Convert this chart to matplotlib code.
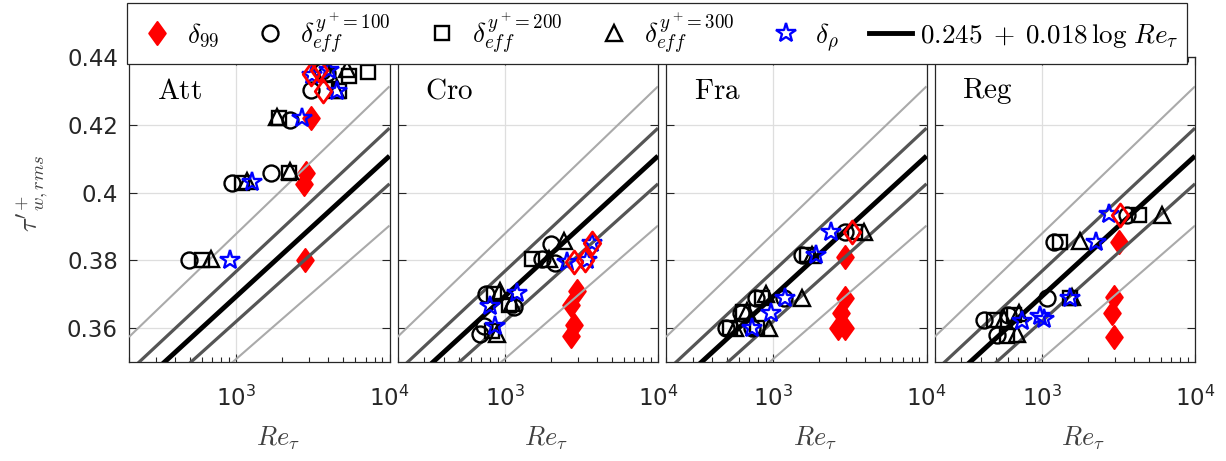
import matplotlib
matplotlib.use("Agg")
import matplotlib.pyplot as plt
import numpy as np
from matplotlib.lines import Line2D
from matplotlib.path import Path
from matplotlib.ticker import FixedLocator, FormatStrFormatter, LogLocator, NullFormatter

plt.rcParams["font.family"] = "DejaVu Sans"
plt.rcParams["mathtext.fontset"] = "cm"

PANELS = ["Att", "Cro", "Fra", "Reg"]

# (Re_tau, tau'+_w,rms) pairs for each boundary-layer thickness definition
ATT_D99 = [(2832, 0.3800), (2763, 0.4025), (2862, 0.4059), (3055, 0.4220)]
ATT_D99_OPEN = [(3698, 0.4300), (3055, 0.4349), (3459, 0.4362)]
ATT_E100 = [(491, 0.3800), (942, 0.4027), (1675, 0.4057), (2260, 0.4215),
            (3055, 0.4303), (3925, 0.4352), (3640, 0.4360)]
ATT_E200 = [(600, 0.3800), (1094, 0.4027), (2208, 0.4059), (1897, 0.4220),
            (4677, 0.4300), (5433, 0.4345), (7227, 0.4355)]
ATT_E300 = [(681, 0.3803), (1180, 0.4035), (2261, 0.4064), (1850, 0.4222),
            (4500, 0.4302), (4120, 0.4350), (5297, 0.4364)]
ATT_RHO = [(910, 0.3800), (1271, 0.4030), (2693, 0.4220), (4563, 0.4300),
           (3126, 0.4346), (4019, 0.4361)]

CRO_D99 = [(2970, 0.3708), (2690, 0.3668), (2825, 0.3609), (2690, 0.3578)]
CRO_D99_OPEN = [(2825, 0.3796), (3365, 0.3801), (3724, 0.3850)]
CRO_E100 = [(1991, 0.3847), (1758, 0.3803), (2143, 0.3793), (750, 0.3700),
            (1146, 0.3663), (695, 0.3582), (731, 0.3606)]
CRO_E200 = [(1512, 0.3803), (849, 0.3700), (1064, 0.3668), (828, 0.3590)]
CRO_E300 = [(2430, 0.3857), (1941, 0.3803), (939, 0.3709), (1119, 0.3675),
            (893, 0.3582)]
CRO_RHO = [(3724, 0.3850), (2560, 0.3796), (3451, 0.3801), (1206, 0.3705),
           (808, 0.3665), (871, 0.3606)]

FRA_D99 = [(2960, 0.3811), (2960, 0.3688), (2750, 0.3645), (2650, 0.3600),
           (2960, 0.3600)]
FRA_D99_OPEN = [(3267, 0.3885)]
FRA_E100 = [(2958, 0.3885), (1548, 0.3816), (767, 0.3688), (1174, 0.3688),
            (613, 0.3645), (489, 0.3600), (730, 0.3600)]
FRA_E200 = [(3443, 0.3885), (1667, 0.3816), (850, 0.3690), (640, 0.3648),
            (520, 0.3600), (780, 0.3600)]
FRA_E300 = [(3893, 0.3885), (1797, 0.3816), (894, 0.3700), (1548, 0.3688),
            (680, 0.3650), (560, 0.3600), (937, 0.3600)]
FRA_RHO = [(2394, 0.3885), (1891, 0.3816), (1203, 0.3690), (961, 0.3645),
           (730, 0.3600)]

REG_D99 = [(3180, 0.3855), (2952, 0.3693), (2878, 0.3644), (2952, 0.3575)]
REG_D99_OPEN = [(3263, 0.3933)]
REG_E100 = [(3603, 0.3933), (1198, 0.3855), (1084, 0.3688), (419, 0.3625),
            (600, 0.3640), (511, 0.3579)]
REG_E200 = [(4295, 0.3933), (1324, 0.3855), (1538, 0.3690), (487, 0.3625),
            (656, 0.3640), (594, 0.3578)]
REG_E300 = [(6095, 0.3935), (1787, 0.3857), (1578, 0.3693), (565, 0.3628),
            (708, 0.3645), (690, 0.3582)]
REG_RHO = [(2735, 0.3936), (2270, 0.3855), (1538, 0.3690), (745, 0.3621),
           (980, 0.3636), (1030, 0.3626)]

# fit 0.245 + 0.018 ln(Re_tau) and the +-2 %, +-5 % bands around it
FIT_A, FIT_B = 0.245, 0.018
BANDS = [(0.95, "#aaaaaa", 1.5), (1.05, "#aaaaaa", 1.5),
         (0.98, "#555555", 2.3), (1.02, "#555555", 2.3), (1.0, "black", 3.5)]

panel_data = {
    "Att": (ATT_D99, ATT_D99_OPEN, ATT_E100, ATT_E200, ATT_E300, ATT_RHO),
    "Cro": (CRO_D99, CRO_D99_OPEN, CRO_E100, CRO_E200, CRO_E300, CRO_RHO),
    "Fra": (FRA_D99, FRA_D99_OPEN, FRA_E100, FRA_E200, FRA_E300, FRA_RHO),
    "Reg": (REG_D99, REG_D99_OPEN, REG_E100, REG_E200, REG_E300, REG_RHO),
}

DIAMOND = Path([(0, 1), (0.72, 0), (0, -1), (-0.72, 0), (0, 1)],
               [Path.MOVETO, Path.LINETO, Path.LINETO, Path.LINETO, Path.CLOSEPOLY])

AXCOL = "#262626"
d99_kw = dict(ls="none", marker=DIAMOND, ms=16.5, mfc="red", mec="red", mew=1.5)
d99o_kw = dict(ls="none", marker=DIAMOND, ms=16.5, mfc="none", mec="red", mew=2.0)
e100_kw = dict(ls="none", marker="o", ms=11.5, mfc="none", mec="black", mew=1.7)
e200_kw = dict(ls="none", marker="s", ms=10.5, mfc="none", mec="black", mew=1.7)
e300_kw = dict(ls="none", marker="^", ms=12, mfc="none", mec="black", mew=1.7)
rho_kw = dict(ls="none", marker="*", ms=15, mfc="none", mec="blue", mew=1.7)

fig = plt.figure(figsize=(12.26, 4.61), dpi=100)

re_line = np.logspace(np.log10(200), 4, 200)
fit = FIT_A + FIT_B * np.log(re_line)

for k, name in enumerate(PANELS):
    ax = fig.add_axes([(129 + 268.5 * k) / 1226, 0.2148, 260.5 / 1226, 0.6616])
    d99, d99o, e100, e200, e300, rho = panel_data[name]

    ax.plot(*zip(*d99), zorder=2, **d99_kw)
    for fac, col, lw in BANDS:
        ax.plot(re_line, fac * fit, color=col, lw=lw, zorder=3,
                solid_capstyle="butt")
    ax.plot(*zip(*e100), zorder=4, **e100_kw)
    ax.plot(*zip(*e200), zorder=4, **e200_kw)
    ax.plot(*zip(*e300), zorder=4, **e300_kw)
    ax.plot(*zip(*rho), zorder=4, **rho_kw)
    ax.plot(*zip(*d99o), zorder=5, **d99o_kw)

    ax.set_xscale("log")
    ax.set_xlim(200, 1e4)
    ax.set_ylim(0.35, 0.44)
    ax.xaxis.set_major_locator(LogLocator(base=10, numticks=5))
    ax.xaxis.set_minor_locator(LogLocator(base=10, subs=np.arange(2, 10), numticks=10))
    ax.xaxis.set_minor_formatter(NullFormatter())
    ax.yaxis.set_major_locator(FixedLocator([0.36, 0.38, 0.40, 0.42, 0.44]))
    ax.yaxis.set_major_formatter(FormatStrFormatter("%g"))
    if k > 0:
        ax.set_yticklabels([])

    ax.grid(True, which="major", color="#dedede", lw=0.9)
    ax.set_axisbelow(True)
    ax.tick_params(which="both", direction="in", top=True, right=True,
                   color=AXCOL, labelcolor=AXCOL, labelsize=16.5, width=0.8)
    ax.tick_params(axis="x", which="major", length=6, pad=17)
    ax.tick_params(axis="y", which="major", length=6, pad=8)
    ax.tick_params(which="minor", length=3.5)
    for sp in ax.spines.values():
        sp.set_color(AXCOL)
        sp.set_linewidth(0.9)

    ax.text(0.107, 0.89, r"$\mathrm{%s}$" % name, transform=ax.transAxes,
            fontsize=21, ha="left", va="center")
    ax.text(0.57, -0.25, r"$Re_\tau$", transform=ax.transAxes, fontsize=19,
            color="#404040", ha="center", va="center")

fig.text(32 / 1226, 1 - 193 / 461, r"$\tau'^{+}_{w,rms}$", rotation=90,
         fontsize=19, color="#404040", ha="center", va="center")

handles = [
    Line2D([], [], **d99_kw),
    Line2D([], [], **e100_kw),
    Line2D([], [], **e200_kw),
    Line2D([], [], **e300_kw),
    Line2D([], [], **rho_kw),
    Line2D([], [], color="black", lw=3.5),
]
labels = [r"$\delta_{99}$", r"$\delta_{eff}^{y^+\!=100}$", r"$\delta_{eff}^{y^+\!=200}$",
          r"$\delta_{eff}^{y^+\!=300}$", r"$\delta_\rho$",
          r"$0.245\;+\;0.018\,\log\,Re_\tau$"]
leg = fig.legend(handles, labels, loc="upper left", ncol=6, mode="expand",
                 bbox_to_anchor=(127 / 1226, 1 - 3 / 461, 1060 / 1226, 0.0),
                 borderaxespad=0.0, fontsize=19.5, frameon=True, fancybox=False,
                 framealpha=1, edgecolor=AXCOL, borderpad=0.3,
                 handlelength=1.6, handletextpad=0.3, columnspacing=0.3)
leg.get_frame().set_linewidth(0.9)

fig.savefig("out.png", dpi=100)
